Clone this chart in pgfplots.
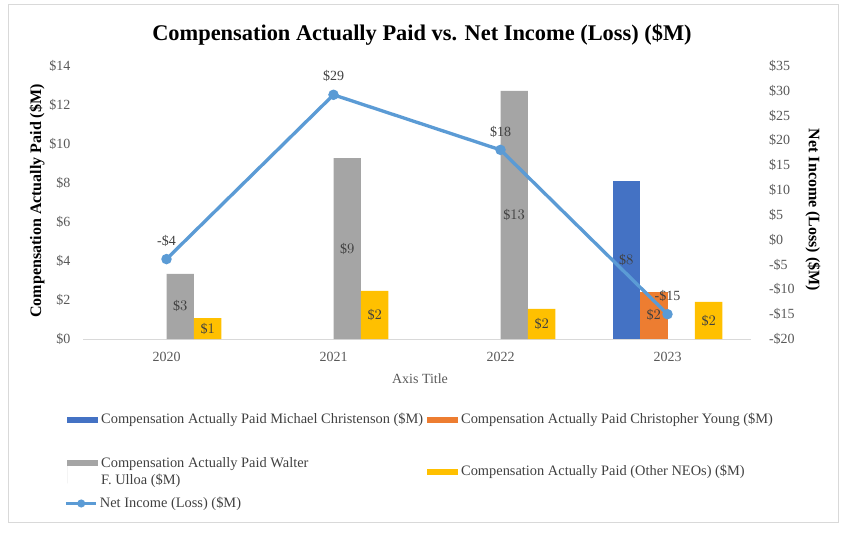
\documentclass[border=0pt]{standalone}
\usepackage{pgfplots}
\pgfplotsset{compat=1.18}
\usepackage{fontspec}
\setmainfont{Liberation Serif}
\definecolor{cblue}{HTML}{4472C4}
\definecolor{corange}{HTML}{ED7D31}
\definecolor{cgray}{HTML}{A5A5A5}
\definecolor{cyellow}{HTML}{FFC000}
\definecolor{cline}{HTML}{5B9BD5}
\definecolor{ctick}{HTML}{595959}
\definecolor{clab}{HTML}{404040}
\definecolor{cborder}{HTML}{D9D9D9}
\newcommand{\tfont}{\fontsize{10.5}{12.5}\selectfont}
\newcommand{\lfont}{\fontsize{10.8}{12.75}\selectfont}
\begin{document}
\begin{tikzpicture}
\path (0,0) rectangle (636.75pt,402pt);
\draw[cborder, line width=0.75pt] (6pt,10.5pt) rectangle (628.5pt,398.25pt);
\begin{axis}[
  at={(62.25pt,147.75pt)}, anchor=south west,
  scale only axis, width=501pt, height=204.75pt,
  xmin=-0.5, xmax=3.5, ymin=0, ymax=14,
  enlargelimits=false,
  axis x line*=bottom, axis y line*=left,
  x axis line style={-, draw=cborder, line width=0.75pt},
  y axis line style={draw=none},
  major tick length=0pt,
  xtick={0,1,2,3}, xticklabels={2020,2021,2022,2023},
  ytick={0,2,4,6,8,10,12,14},
  yticklabels={\$0,\$2,\$4,\$6,\$8,\$10,\$12,\$14},
  ticklabel style={font=\tfont, text=ctick},
  xticklabel style={yshift=-6.5pt},
  yticklabel style={xshift=-6pt},
  ybar=0pt, bar width=20.6pt,
  visualization depends on=y \as \rawy,
  nodes near coords={\$\pgfmathprintnumber[fixed,precision=0]{\pgfplotspointmeta}},
  every node near coord/.append style={anchor=center, font=\tfont, text=clab,
     shift={(axis direction cs:0,-\rawy/2)}},
  legend columns=2,
  legend cell align=left,
  legend style={at={(-0.024,-0.262)}, anchor=north west, draw=none, fill=none,
     font=\lfont, text=clab, inner sep=0pt, row sep=19.5pt,
     cells={align=left},
     /tikz/every odd column/.append style={column sep=0.25pt},
     /tikz/every even column/.append style={column sep=1pt}},
  legend image code/.code={\fill[#1] (0pt,-2.25pt) rectangle (23.25pt,2.25pt);},
]
\addplot[fill=cblue, draw=none] coordinates {(3,8.1)};
\addplot[fill=corange, draw=none] coordinates {(3,2.42)};
\addplot[fill=cgray, draw=none,
  legend image code/.code={\fill[cgray] (0pt,4.15pt) rectangle (23.25pt,8.65pt); \path (0pt,-8.65pt) -- (0pt,8.65pt);}]
  coordinates {(0,3.34) (1,9.28) (2,12.72)};
\addplot[fill=cyellow, draw=none] coordinates {(0,1.07) (1,2.47) (2,1.55) (3,1.9)};
\addlegendentry{Compensation Actually Paid Michael Christenson (\$M)}
\addlegendentry{Compensation Actually Paid Christopher Young (\$M)}
\addlegendentry{Compensation Actually Paid Walter\\F. Ulloa (\$M)}
\addlegendentry{Compensation Actually Paid (Other NEOs) (\$M)}
\end{axis}
\begin{axis}[
  at={(62.25pt,147.75pt)}, anchor=south west,
  scale only axis, width=501pt, height=204.75pt,
  xmin=-0.5, xmax=3.5, ymin=-20, ymax=35,
  enlargelimits=false,
  axis x line=none, axis y line*=right,
  y axis line style={draw=none},
  major tick length=0pt,
  ytick={-20,-15,-10,-5,0,5,10,15,20,25,30,35},
  yticklabels={-\$20,-\$15,-\$10,-\$5,\$0,\$5,\$10,\$15,\$20,\$25,\$30,\$35},
  ticklabel style={font=\tfont, text=ctick},
  yticklabel style={xshift=10pt},
  legend style={at={(-0.0284,-0.569)}, anchor=north west, draw=none, fill=none,
     font=\lfont, text=clab, inner sep=0pt},
  legend image code/.code={\draw[cline, line width=2.2pt] (0pt,0pt) -- (22.5pt,0pt); \fill[cline] (11.6pt,0pt) circle (1.7pt);},
]
\addplot[color=cline, line width=2.5pt, mark=*, mark size=2.6pt,
  point meta=explicit symbolic,
  nodes near coords,
  every node near coord/.append style={anchor=south, font=\tfont, text=clab, yshift=5pt}]
  coordinates {(0,-3.9) [-\$4] (1,29.2) [\$29] (2,18.1) [\$18] (3,-15) [-\$15]};
\addlegendentry{Net Income (Loss) (\$M)}
\end{axis}
\node[font=\bfseries\fontsize{16.8}{19}\selectfont] at (316.5pt,375.75pt) {Compensation Actually Paid vs. Net Income (Loss) (\$M)};
\node[rotate=90, font=\bfseries\fontsize{12}{14}\selectfont] at (27.75pt,251.25pt) {Compensation Actually Paid (\$M)};
\node[rotate=-90, font=\bfseries\fontsize{12}{14}\selectfont] at (609.75pt,244.5pt) {Net Income (Loss) (\$M)};
\node[text=ctick, font=\tfont] at (315pt,117.75pt) {Axis Title};
\end{tikzpicture}
\end{document}
